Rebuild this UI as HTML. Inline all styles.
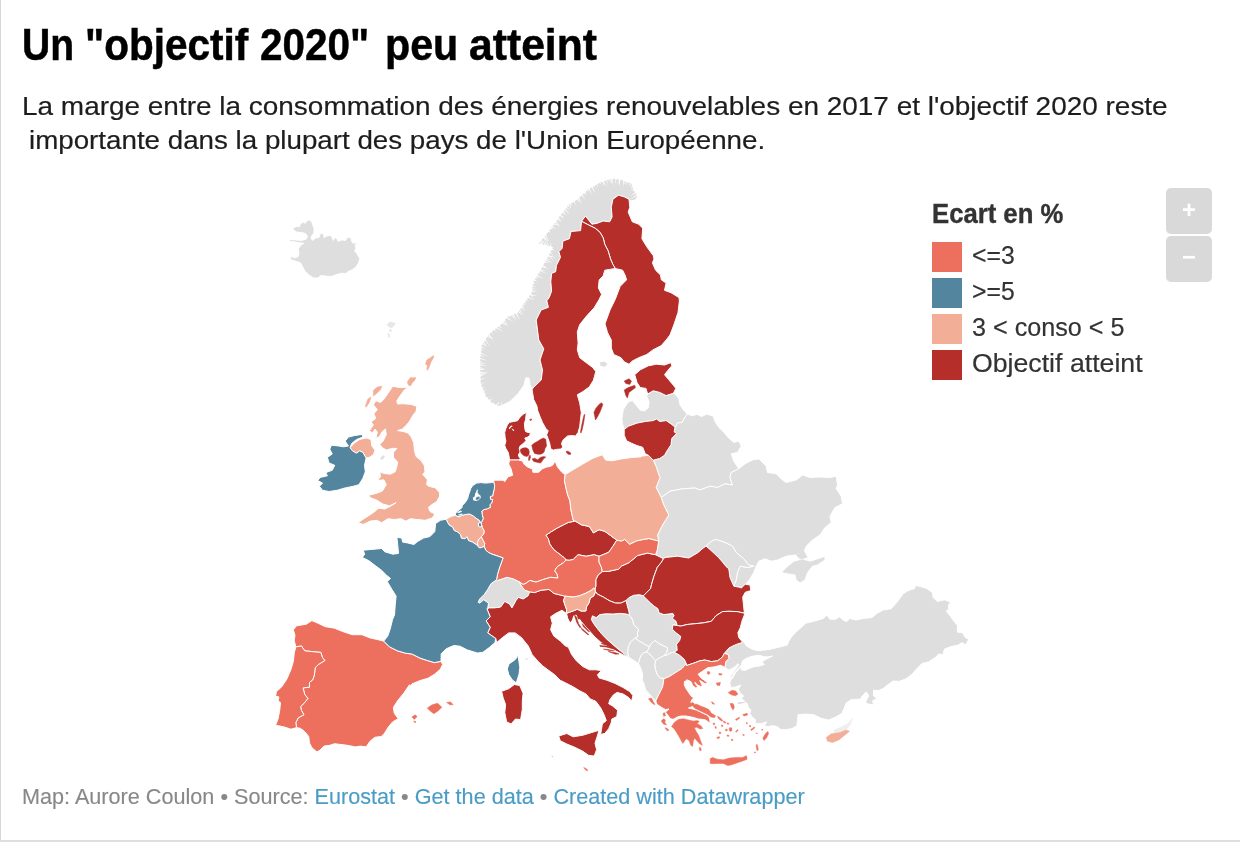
<!DOCTYPE html>
<html lang="fr">
<head>
<meta charset="utf-8">
<title>Un "objectif 2020" peu atteint</title>
<style>
html,body{margin:0;padding:0;background:#fff;}
body{width:1240px;height:842px;position:relative;overflow:hidden;font-family:"Liberation Sans",sans-serif;color:#222;}
.frame{position:absolute;left:0;top:0;width:1239px;height:840px;border-left:1px solid #d6d6d6;border-bottom:2px solid #dedede;box-sizing:content-box;}
.t{position:absolute;white-space:pre;line-height:1;transform-origin:0 0;}
#title{left:0;top:23px;font-size:44px;font-weight:bold;color:#000;-webkit-text-stroke:0.5px #000;}
#title span{position:absolute;top:0;transform-origin:0 0;white-space:pre;}
#sub1{left:22px;top:92.7px;font-size:26.5px;-webkit-text-stroke:0.2px #1d1d1d;transform:scaleX(1.0546);color:#1d1d1d;}
#sub2{left:29px;top:127.2px;font-size:26.5px;-webkit-text-stroke:0.2px #1d1d1d;transform:scaleX(1.0466);color:#1d1d1d;}
#ltitle{left:932px;top:200px;font-size:28px;transform:scaleX(0.917);font-weight:bold;color:#333;-webkit-text-stroke:0.4px #333;}
.sw{position:absolute;left:932px;width:30px;height:30px;}
.ll{left:972px;font-size:26.5px;color:#333;-webkit-text-stroke:0.2px #333;}
.zb{position:absolute;left:1166px;width:46px;height:46px;background:#d9d9d9;border-radius:5px;}
.zb span{position:absolute;left:0;width:46px;text-align:center;color:#fff;font-weight:bold;font-size:24px;line-height:1;}
#zp{top:10px;}#zm{top:8.6px;}
#foot{left:22px;top:785.7px;font-size:22.5px;transform:scaleX(0.9614);color:#888;-webkit-text-stroke:0.15px #888;}
#foot a{color:#4a9cc6;text-decoration:none;-webkit-text-stroke:0.15px #4a9cc6;}
svg{position:absolute;left:0;top:0;}
</style>
</head>
<body>
<div class="frame"></div>
<div class="t" id="title"><span style="left:21.98px;transform:scaleX(0.8864)">Un</span> <span style="left:84.91px;transform:scaleX(0.9205)">&quot;objectif</span> <span style="left:259.83px;transform:scaleX(0.9203)">2020&quot;</span> <span style="left:385.13px;transform:scaleX(0.9358)">peu</span> <span style="left:469.03px;transform:scaleX(0.9695)">atteint</span></div>
<div class="t" id="sub1">La marge entre la consommation des énergies renouvelables en 2017 et l'objectif 2020 reste</div>
<div class="t" id="sub2">importante dans la plupart des pays de l'Union Européenne.</div>
<svg width="1240" height="842" viewBox="0 0 1240 842"><g stroke="#fff" stroke-width="1" stroke-linejoin="round">
<path id="iceland" fill="#dedede" d="M292.4,228.5 295.2,227.1 297.1,226.2 299,227.1 300.4,224.3 302.8,221.9 305.2,223.3 307.1,220.5 309.5,220 311.8,221.9 312.8,225.2 314.2,229 313.7,233.3 311.8,235.7 310.9,238.5 312.8,240.4 315.6,238 319,237.6 320.4,233.3 323.3,233.3 324.2,237.6 326.6,236.1 330.4,235.2 332.3,237.6 333.2,240.4 334.7,237.6 337,238.5 338,241.4 341.8,239.9 345.6,240.4 347.5,237.1 350.8,237.6 351.8,241.4 353.2,243.3 357.9,242.3 355.1,245.2 356,248 354.6,250.9 357,253.7 359.8,258.5 358.4,263.2 356,267 352.2,269.9 348.4,271.3 345.6,273.7 341.8,273.2 337,274.6 331.3,276.5 325.6,276.1 320.9,275.6 318,278 313.3,278 308.5,274.6 304.7,270.8 302.3,266.1 300.4,262.8 296.2,261.3 290,259.4 291.4,256.1 294.3,258 298.1,256.6 299,252.8 298.1,249 300.4,245.6 303.8,243.3 299,242.8 294.3,241.8 289.5,241.4 290,239.5 295.2,239.9 300.9,240.4 305.7,239.5 307.6,236.6 305.7,233.8 302.8,232.8 299,232.3 295.7,231.9 294.3,230Z"/>
<path id="faroe_isl" fill="#e7e7e7" stroke="#e7e7e7" stroke-width="0.5" d="M386.9,324.3 390.2,321.9 395.4,323.3 394,325.7 391.2,328.1 388.3,326.2ZM389.3,329.5 391.6,330 391.2,331.9 389.4,331.4ZM387.8,333.3 389.3,333.8 389.7,337.6 388.5,337.1Z"/>
<path id="norway" fill="#dedede" d="M480,380 479.5,360 481.2,345 490,332.5 500,325 507.5,316.2 517.5,312.5 522.5,305 531.2,292.5 532.5,282.5 540,270 552.5,247.5 537.5,243.8 547.5,232.5 560,215 570,202.5 572.6,202.4 580.6,196 587.1,189.5 595.2,184.7 603.2,180.6 612.9,177.9 622.6,179.8 633.9,183.9 633.1,188.7 637.9,196 635.5,200 630.6,200.8 629,199.2 624.2,196.8 618.5,195.2 612.9,199.2 611.3,207.3 612.1,216.9 609.7,221.8 603.2,221 596.8,223.4 591.9,224.2 585.5,216.1 581.5,221.3 581.5,221.3 580.6,230.6 571,231.5 569.4,238.7 562.9,241.1 562.1,248.4 558.9,251.6 560.5,257.3 556.5,265.3 555.6,271.8 551.6,273.4 550.8,281.5 551.6,291.1 549.2,297.6 546.8,300.8 548.4,307.3 541.1,310 536.2,320 538.8,340 543.8,348.8 540,360 542.5,370 541.2,380 532.9,388.1 530.5,386.8 528.9,377.9 525.6,377.9 524,385.2 518.4,393.2 510.3,401.3 499,406.9 491,402.7 485.3,396.3 482.9,389.8 480.5,385Z"/>
<path id="fjords" fill="#fff" stroke="none" d="M479.4,380 479.4,378.7 486.2,378.4ZM479.3,377.3 479.3,376 486,373.6ZM479.3,375.4 479.3,374.1 487.6,372.7ZM479.2,373.3 479.2,372 488.8,372.1ZM479.2,370.1 479.1,368.8 485.6,370.1ZM479.1,368.1 479.1,366.8 486.1,369.7ZM479,365.4 479,364.1 487,365.9ZM479,363.5 479,362.2 487.1,363.4ZM478.9,361.2 478.9,359.9 482.5,361.6ZM479,358.7 479.2,357.4 487.5,360.8ZM479.4,355.5 479.6,354.2 485,357.1ZM479.7,353 479.8,351.7 488,356.5ZM479.9,351 480.1,349.7 484.3,349.8ZM480.3,347.7 480.4,346.4 486.4,348.5ZM481.1,344.1 481.8,343 486.7,346.3ZM482.7,341.9 483.4,340.8 487,347.2ZM484.3,339.5 485.1,338.5 490,346.4ZM486.3,336.8 487,335.7 493.9,338.5ZM488.1,334.2 488.8,333.1 493.6,341.5ZM490.6,331.3 491.6,330.5 492.8,335.4ZM492.8,329.7 493.8,328.9 497.8,332ZM495.3,327.8 496.3,327 504,332.3ZM497.8,325.9 498.8,325.2 503.2,329ZM500.4,323.6 501.3,322.6 509.3,325.5ZM502.2,321.5 503.1,320.5 505.1,324ZM503.7,319.7 504.6,318.7 507.7,327.3ZM505.4,317.7 506.3,316.7 514.1,322ZM508.1,315.3 509.4,314.9 510.9,318.2ZM510.4,314.5 511.7,314 515.5,319.9ZM512.2,313.8 513.4,313.4 517.3,321.2ZM515.3,312.7 516.5,312.2 520,320.4ZM517.4,311.6 518.1,310.5 523.6,315.7ZM518.9,309.3 519.6,308.3 523.2,314.9ZM520.3,307.2 521.1,306.1 525.1,311ZM521.5,305.3 522.3,304.3 524.7,309.3ZM522.5,304 523.2,303 526,305.4ZM524,301.8 524.7,300.7 527.2,303.7ZM525.6,299.5 526.4,298.4 529,301.5ZM527.1,297.4 527.8,296.3 534.3,300.3ZM528.7,295 529.5,293.9 537,295.8ZM529.8,293.4 530.6,292.4 534.1,299.4ZM530.7,291.9 530.8,290.6 537.9,291ZM531,289.5 531.1,288.2 536.5,288.9ZM531.3,286.8 531.5,285.5 536.8,286.3ZM531.7,283.8 531.9,282.5 535.5,283.9ZM532.1,282.1 532.7,280.9 535.8,285ZM533.2,280.2 533.9,279.1 537.7,281.8ZM534.7,277.7 535.4,276.6 538.9,278.7ZM535.9,275.7 536.6,274.6 543.8,279.1ZM537.5,273 538.2,271.9 542.1,274.2ZM539,270.5 539.6,269.4 547.2,274.2ZM539.3,270 539.9,268.9 546.2,270.9ZM540.8,267.3 541.4,266.2 549.5,268.6ZM541.9,265.3 542.5,264.2 549,269.8ZM543.4,262.6 544,261.5 549.3,263.1ZM544.5,260.7 545.1,259.5 552.8,262.5ZM545.6,258.6 546.3,257.5 551.5,260.6ZM546.8,256.4 547.5,255.3 556.1,257.6ZM547.7,254.9 548.4,253.7 554,261.3ZM549.4,251.9 550,250.8 553.4,256.2ZM550.9,249.1 551.6,247.9 555,251.7ZM551.3,247.8 550.1,247.5 551,241ZM549,247.3 547.8,247 547.7,242.2ZM546.4,246.6 545.1,246.3 548.4,241.8ZM544.5,246.2 543.3,245.8 547.6,237.8ZM541.4,245.4 540.1,245.1 545.9,237.9ZM538.7,244.7 537.5,244.4 539.7,241.3ZM537.1,243.3 538,242.3 543.1,248ZM538.8,241.5 539.6,240.5 545.4,247.8ZM540.3,239.7 541.2,238.7 543.3,243.6ZM542,237.8 542.9,236.8 549.4,241.9ZM543.4,236.2 544.3,235.2 547.5,241.5ZM544.8,234.6 545.7,233.6 548.9,241.6ZM547.9,230.9 548.6,229.9 551,232.8ZM549.7,228.4 550.5,227.3 553.6,229.4ZM551,226.5 551.8,225.5 557.2,229.5ZM552.5,224.5 553.3,223.4 561,225.2ZM553.6,222.9 554.4,221.9 558.1,223.6ZM554.7,221.3 555.5,220.3 560.6,228.5ZM555.9,219.7 556.6,218.7 562.2,222.1ZM557.2,217.9 558,216.8 561.8,221.2ZM558.8,215.6 559.6,214.6 564.6,217ZM559.3,214.9 560.1,213.9 564.2,219.7ZM560.8,213 561.6,212 565,214.1ZM562.3,211.1 563.1,210.1 567,216.4ZM563.8,209.2 564.7,208.2 570.2,214.7ZM565.4,207.3 566.2,206.3 570.4,210.4ZM567.2,205 568,204 571.7,209.1ZM568.8,203 569.6,202 573.1,205.8ZM569.5,201.9 570.8,201.9 570.8,208ZM573.6,200.8 574.6,200 575.9,205.9ZM576,198.9 577,198.1 579.9,202.4ZM577.6,197.7 578.6,196.8 582.3,204.6ZM581.2,194.6 582.1,193.7 585.7,200.5ZM583.1,192.7 584,191.8 586.3,195.4ZM584.4,191.4 585.3,190.5 587.1,194.7ZM585.7,190 586.6,189.1 589.9,191.3ZM586.6,189.1 587.8,188.4 588.1,192.3ZM588.4,188.1 589.5,187.4 592.1,195.8ZM591.1,186.5 592.2,185.8 595.8,194.5ZM593.7,184.9 594.8,184.2 595.4,188.2ZM596,183.6 597.2,183 597.7,187.4ZM598.9,182.1 600.1,181.5 601.8,185ZM601.3,180.9 602.5,180.3 607.5,187.1ZM603,180 604.3,179.7 603.9,187.1ZM605.4,179.4 606.6,179 608.1,184.6ZM607.7,178.7 608.9,178.4 612,183.4ZM610.2,178 611.4,177.7 614.1,186.7ZM612.8,177.3 614.1,177.5 610.2,184.4ZM615.6,177.8 616.9,178.1 615.1,184.5ZM618.4,178.4 619.7,178.6 620.2,187.4ZM620.3,178.7 621.6,179 616.5,185.6ZM623.3,179.4 624.5,179.9 623.4,187.5ZM625.4,180.2 626.6,180.6 624,184.8ZM627.6,181 628.8,181.4 625.7,185.5ZM630.7,182.1 631.9,182.5 628.6,186.9ZM633,182.9 634.2,183.4 630,191.1ZM634.5,183.9 634.3,185.2 630.7,184ZM634.1,186.3 633.9,187.6 629.4,186.7ZM634.4,189.5 635.1,190.6 630.4,190.7ZM635.8,191.7 636.5,192.7 630.2,196.3ZM637.5,194.3 638.2,195.3 630.5,199.1ZM501.3,406.7 500.2,406.9 501.7,400.4ZM498,407.1 497,407.3 499.1,401ZM494.9,406.8 494.1,406.1 500,401.6ZM492.5,404.7 491.6,404 494.3,401.6ZM490,402.5 489.2,401.6 491.8,396.9ZM488.5,400.8 487.8,400 492.2,398.9ZM486.5,398.6 485.8,397.8 489.5,396.4ZM484.4,395.5 484,394.5 486.8,392.5ZM483.3,392.5 482.9,391.5 486.4,389.8ZM481.6,388.5 481.1,387.5 485.7,387.8ZM480.4,386.2 479.9,385.2 484.7,381.6Z"/>
<path id="isleofman_isl" fill="#dedede" stroke="#dedede" stroke-width="0.5" d="M380.6,458.1 383.1,455.6 384.7,456 383.1,458.9 381.1,459.7Z"/>
<path id="aland_isl" fill="#dedede" stroke="#dedede" stroke-width="0.5" d="M600,362.6 604,361.8 607.3,364.2 604.8,366.6 600.8,365.8Z"/>
<path id="switzerland" fill="#dedede" d="M487.7,608.4 488.5,603.1 483.7,599.8 479.7,603.1 478.1,602.3 479.7,599 484.5,594.2 487.7,589.4 491,583.7 496.6,579.7 496.6,579.7 497.4,580.5 507.1,577.3 513.5,578.9 519.2,581.8 519.2,581.8 521.6,586.1 524.8,590.2 529.7,591.8 529.7,591.8 528.1,595.8 523.2,599 518.4,597.4 516,600.6 511.9,607.9 509.5,603.9 504.7,601.5 500.6,607.1 494.2,607.9 489.4,607.9 487.7,608.4Z"/>
<path id="latvia" fill="#dedede" d="M621.8,419 623.4,409.4 628.2,402.1 632.3,400.5 635.5,404.5 640.3,410.2 644.4,411 648.4,407.7 649.2,402.1 646.8,396.5 647.6,394 653.2,390.8 659.7,392.4 666.1,395.6 673.4,393.2 675.8,394.8 679,398.9 679.8,404.5 683.1,409.4 687.1,414.2 683.9,419 682.3,422.3 677.4,423.1 675.8,426.3 675,427.1 675,427.1 671,423.9 666.1,420.6 659.7,421.5 656.5,419 653.2,420.6 645.2,421.5 637.1,423.1 628.2,426.3 624.2,429.5 622.6,423.9Z"/>
<path id="belarus" fill="#dedede" d="M675,427.1 675.8,426.3 677.4,423.1 682.3,422.3 683.9,419 687.1,414.2 692.7,415.8 696.8,414.2 701.6,416.6 706.5,414.2 712.9,415.8 715.3,422.3 719.4,427.9 724.2,432.7 729,438.4 733.9,442.4 738.8,441.2 741.2,446.2 737.5,452.5 731.2,453.8 733.8,461.2 738.8,468.8 731.2,472.5 730,477.5 732.5,485 732.5,485 725,483.8 717.5,487.5 710,486.2 700,490 695,488 682.5,488.8 670,491.2 661.2,497.5 661.2,497.5 656.2,487.5 660,477.5 658.9,475 656.5,467.4 654,461.8 653.2,460.2 653.2,460.2 659.7,458.5 664.5,455.3 667.7,449.7 671,444.8 671.8,438.4 676.6,433.5 674.2,431.9 675,427.1Z"/>
<path id="ukraine" fill="#dedede" d="M661.2,497.5 670,491.2 682.5,488.8 695,488 700,490 710,486.2 717.5,487.5 725,483.8 732.5,485 730,477.5 731.2,472.5 738.8,468.8 745,463.8 752.5,460 758.8,458.8 766.2,466.2 767.5,472.5 776.2,473.8 782.5,480 786.2,482.5 796.2,480 802.5,475 810,477.5 820,477 830,477.5 836.2,476.2 837.5,485 836.2,488.8 841.2,496.2 842.5,503.8 835,507.5 830,516.2 831.2,522.5 825,527.5 820,535 812.5,540 806.2,546.2 803.8,552.5 795,555 786.2,556.2 777.5,560 771.2,561.2 765,558.8 758.8,561.2 756.2,566.2 753.8,572.5 750,578.8 746.2,583.8 741.2,587.5 733.8,586.2 733.8,586.2 736.2,580 737.5,572.5 740,566.2 747.5,567.5 753.8,566.2 748.8,565 743.8,558.8 736.2,552.5 732.5,546.2 725,542.5 717.5,540 714.5,539.5 710,542.5 706,546 706,546 702,549 698,552.6 688.8,558 677.5,556.2 665,557.5 663.5,558.7 655.5,554.7 655.5,554.7 657.1,550.6 658.7,541 658.8,541.2 657.5,535 662.5,525 668.8,515 663.8,505 661.2,497.5Z"/>
<path id="crimea" fill="#dedede" d="M781.2,572.5 786.2,567.5 793.8,561.2 802.5,558.8 810,561.2 817.5,558.8 825,556.2 825,560 817.5,565 812.5,566.2 807.5,572.5 805,580 800,583 796.2,580 795,575 787.5,573.8Z"/>
<path id="crimeaneck_isl" fill="#dedede" stroke="#dedede" stroke-width="0.5" d="M796,554.8 804,551.3 807.3,557.4 800,559Z"/>
<path id="moldova" fill="#dedede" d="M706,546 710,542.5 714.5,539.5 717.5,540 725,542.5 732.5,546.2 736.2,552.5 743.8,558.8 748.8,565 753.8,566.2 747.5,567.5 740,566.2 737.5,572.5 736.2,580 733.8,586.2 733.8,586.2 730,577.5 728.8,568.8 726,566.5 722.5,562 718.5,557.5 714.3,553.5 710,549.5 706,546Z"/>
<path id="serbia" fill="#dedede" d="M625.8,600.7 628.8,597.7 633.6,595.3 639.7,594.7 643.3,595.9 643.3,595.9 646.9,599.5 650.6,603.1 654.2,606.2 657.8,608.6 659,612.8 663.9,614.6 668.7,614 672.9,613.4 674.1,615.8 672.3,618.3 676,621.3 677.2,625.5 677.2,625.5 672.9,624.9 672.3,629.2 676,632.8 680.8,636.4 679.6,640.6 676.6,644.3 677.2,650.3 674.1,652.1 674.1,652.1 669.9,653.3 666.9,655.2 663.9,655.8 663.9,655.8 666.9,652.1 667.5,647.9 663.9,646.1 659,643.7 654.8,640.6 651.8,643.1 649.4,646.7 649.4,646.7 644.5,644.3 638.5,640.6 634.8,638.2 634.8,638.2 637.9,636.4 637.3,633.4 638.5,629.2 633.6,624.9 632.4,619.5 629.4,615.2 629.4,615.2 628.8,611 627.6,606.8 626.4,601.9 625.8,600.7Z"/>
<path id="kosovo" fill="#dedede" d="M649.4,646.7 651.8,643.1 654.8,640.6 659,643.7 663.9,646.1 667.5,647.9 666.9,652.1 663.9,655.8 663.9,655.8 660.2,657.6 657.2,659.4 655.4,660.6 655.4,660.6 651.8,656.4 648.1,652.7 646.3,652.1 646.3,652.1 648.1,649.7 649.4,646.7Z"/>
<path id="montenegro" fill="#dedede" d="M634.8,638.2 638.5,640.6 644.5,644.3 649.4,646.7 649.4,646.7 648.1,649.7 646.3,652.1 646.3,652.1 643.9,652.7 641.5,654.6 639.7,658.8 638.5,663.6 632.4,659.4 628.8,657.6 627.6,652.1 628.2,646.7 630.6,641.9 634.8,638.2Z"/>
<path id="nmacedonia" fill="#dedede" d="M655.4,660.6 657.2,659.4 660.2,657.6 663.9,655.8 663.9,655.8 666.9,655.2 669.9,653.3 674.1,652.1 674.1,652.1 679.6,655.2 684.4,659.4 686.2,663.6 686.2,663.6 682,668.5 677.2,671.5 673.5,673.9 668.7,676.9 663.9,678.7 663.9,678.7 660.2,678.1 657.2,674.5 655.4,669.7 654.8,664.8 655.4,660.6Z"/>
<path id="albania" fill="#dedede" d="M638.5,663.6 639.7,658.8 641.5,654.6 643.9,652.7 646.3,652.1 646.3,652.1 648.1,652.7 651.8,656.4 655.4,660.6 655.4,660.6 654.8,664.8 655.4,669.7 657.2,674.5 660.2,678.1 663.9,678.7 663.9,678.7 662.7,686.8 658.7,694.8 655.5,701.3 652.3,697.3 645.8,690 643.4,681.9 642.1,680.6 642.7,674.5 640.9,668.5Z"/>
<path id="bosnia" fill="#dedede" d="M628.8,657.6 627.6,656.4 622.7,652.7 616.7,647.9 611.9,643.7 607,639.4 602.2,634.6 597.3,628.5 593.7,623.7 591.3,619.5 592.5,615.8 596.1,617.7 599.8,614.6 605.8,613.8 613.1,614 620.3,613.4 626.4,614 629.4,615.2 629.4,615.2 632.4,619.5 633.6,624.9 638.5,629.2 637.3,633.4 637.9,636.4 634.8,638.2 634.8,638.2 630.6,641.9 628.2,646.7 627.6,652.1 628.8,657.6Z"/>
<path id="turkey" fill="#dedede" d="M743.7,641.5 746.1,645.7 751,648.7 757,650.6 765.5,650 772.7,648.7 780,646.9 787.3,645.1 788.5,641.5 792.1,636 796.1,632.1 805.8,623.2 815.5,620.8 823.5,618.4 826.8,615.2 830,619.2 835.6,619.2 839.7,616.8 842.9,620 846.9,621.6 849.4,618.4 855.8,620 863.9,618.4 871.9,617.6 876.8,613.5 883.2,610 891.3,608.7 896.9,602.3 903.4,593.4 909,590.2 914.7,588.5 915.5,585.3 921.9,586.9 926.8,588.5 932.4,592.6 933.2,597.4 937.3,601.5 944.5,599.8 951,602.3 948.5,604.7 948.5,609.5 946.1,611.1 950.2,616 954.2,621.6 957.4,625.6 957.4,632.1 963.1,632.9 964.7,636.9 968.7,639.4 965.5,645 962.3,642.6 958.2,645 951,646.6 944.5,649 942.9,654.7 938.9,653.9 934.8,657.9 928.4,661.9 921.9,663.5 917.1,668.4 912.3,674 905.8,678.9 899.4,681.3 892.9,681 888.1,684.5 883.2,688.5 878.4,690.6 873.5,690.2 873.5,695.8 876.8,699 872.7,700.6 873.5,705 867.9,703.9 865.5,702.3 868.7,695.8 866.3,691.8 862.3,695.8 860.6,699 851,699.8 846.1,703.1 844.1,708.6 841.7,713.5 835.6,717.1 828.4,720.1 821.1,718.3 813.9,714.7 805.4,714.1 798.1,714.7 797.5,720.1 796.9,725.6 792.1,728.6 784.8,729.8 780,729.2 777.6,726.8 772.7,725.6 767.9,726.8 764.3,725.6 766.7,721.9 760.6,723.7 754.6,723.1 755.8,720.1 752.2,717.1 749.8,713.5 751,710.4 748.5,707.4 746.7,702.6 742.5,703.8 737.1,705 737.7,701.4 744.9,701.4 741.3,698.3 743.7,695.9 740.1,692.9 738.3,689.3 740.7,685 735.8,686.9 731,687.5 729.8,683.2 731,678.4 729.8,678.4 731,675.4 734.6,670.5 738.9,664.5 737.7,663.9 734,667.5 729.2,669.9 726.2,668.7 725,667.3 725.8,661.6 729,658.4 728.2,654.4 724.2,653.5 724.2,653.5 729,647.9 735.5,644.7 742.7,642.3Z"/>
<path id="marmara" fill="#ffffff" d="M741.3,665.1 742.5,660.8 747.3,657.8 753.4,656 759.4,655.2 763.1,656.6 767.9,656.9 772.7,656 765.5,659.6 761.9,662.1 764.3,664.5 758.2,666.3 753.4,666.9 748.5,668.7 744.9,670.5 741.3,669.9ZM731,678.6 735.2,671.4 741.3,665.3 742,666 736.1,672.1 731.9,679.1Z"/>
<path id="ncyprus_isl" fill="#eeeeee" stroke="#eeeeee" stroke-width="0.5" d="M833.8,730 840,727.5 847.5,723.8 853,718 850,725 846.2,730 840,732.5 833.8,732.5Z"/>
<path id="finland" fill="#b52e29" d="M581.5,221.3 585.5,216.1 591.9,224.2 596.8,223.4 603.2,221 609.7,221.8 612.1,216.9 611.3,207.3 612.9,199.2 618.5,195.2 624.2,196.8 629,199.2 629.8,207.3 628.2,212.1 632.3,221.8 638.7,224.2 642.7,228.2 641.9,238.7 646.8,246.8 653.2,255.6 654,258.9 652.4,262.9 655.6,270.2 660.5,275 661.3,279.8 666.1,283.1 664.5,290.3 671,292.7 679,297.6 679.8,304 679.5,300 678,312.5 673.8,325 670,335 666.1,340 661.3,345.6 653.2,349.7 646.8,354.5 638.7,357.7 632.3,361 629,364.2 624.2,361.8 621,357.7 613.7,354.5 611.3,348.1 611.3,340 607.5,332.5 605,323.8 610,310 615.3,299.2 620.2,286.3 626.6,279.8 625,275 622.6,270.2 615.3,268.5 612.9,264.5 610.5,258.9 608.1,250.8 604.8,244.4 603.2,237.9 600,232.3 595.2,228.2 588.7,225 581.5,221.3Z"/>
<path id="sweden" fill="#b52e29" d="M581.5,221.3 588.7,225 595.2,228.2 600,232.3 603.2,237.9 604.8,244.4 608.1,250.8 610.5,258.9 612.9,264.5 615.3,268.5 609.7,269.4 604.8,270.2 603.2,275.8 599.2,279.8 598.4,287.9 601.6,294.4 601,295.6 599,299.7 594.2,307.7 586.1,316.6 579.7,324.7 577.3,331.9 578.1,343.2 577.3,349.7 579.7,357.7 586.1,362.6 592.6,367.4 595.8,371.5 593.4,380.3 589.4,386.8 582.9,391.6 577.3,394.8 579.7,402.9 581.3,412.6 580.5,419.5 579.7,426.8 578.1,432.4 575.6,436 571.6,435.6 567.6,436 565.2,438.1 562.7,440.5 561.5,443.7 562.7,446.9 561.1,449 556.3,449.4 553.1,450.2 550.6,448.5 549.8,443.7 548.2,438.9 546.6,434.8 548.2,430.8 545.8,428.4 542.6,422.7 540.2,417.1 537.7,410.6 536.9,406 533.7,399.5 532.1,389.8 532.9,388.1 541.2,380 542.5,370 540,360 543.8,348.8 538.8,340 536.2,320 541.1,310 548.4,307.3 546.8,300.8 549.2,297.6 551.6,291.1 550.8,281.5 551.6,273.4 555.6,271.8 556.5,265.3 560.5,257.3 558.9,251.6 562.1,248.4 562.9,241.1 569.4,238.7 571,231.5 580.6,230.6 581.5,221.3Z"/>
<path id="sweden_isl" fill="#b52e29" stroke="#b52e29" stroke-width="0.5" d="M584.1,414.7 584.9,414.5 583.7,422.7 582.1,430 580.9,433.2 580.5,431.6 581.7,425.2 582.9,419.5ZM601.5,402.7 602.9,404.4 600.2,411.6 597.7,416.5 595.5,420 593.9,412.4 595.8,408.4 599,404.4Z"/>
<path id="denmark" fill="#b52e29" d="M526.5,412.3 526,415.5 525.6,419.5 524.4,423.5 524.8,428.4 525.6,431.6 528.1,432.4 530.5,432.8 529.7,435.6 527.3,437.3 524.8,438.1 526,440.5 524,442.9 522,444.5 520,446.1 519.2,448.5 520,451.8 518.4,455 519.2,457.4 520.8,458.2 518.4,460 509.5,460 509.1,456.6 508.3,452.6 505.9,448.5 504.7,445.3 505.9,441.3 505.1,437.3 504.7,432.4 505.9,428.4 507.5,424.8 509.5,422.3 513.5,421.5 517.6,420.7 520,417.1 523.2,414.3Z"/>
<path id="limfjord" fill="#fff" stroke="none" d="M508.7,428 511.1,425.6 512.9,426 511.1,427.2 509.5,429.2ZM511.5,428.4 513.4,429.2 514.4,431 513.4,431 512.1,429.6Z"/>
<path id="denmark_isl" fill="#b52e29" stroke="#b52e29" stroke-width="0.5" d="M520.4,449.4 522.8,448.1 526,447.7 528.5,449 529.3,451.8 528.9,455 526.9,456.6 524,455.8 521.6,453.8 520.4,451.4ZM528.9,456.6 530.1,455 530.5,457.4 529.3,460.6 528.5,460.2ZM531.7,445.3 534.5,442.9 537.7,441.3 540.6,439.3 543.4,438.1 545.8,439.3 546.2,442.9 546.6,446.1 545,448.5 544.2,451.8 542.6,453.4 540.6,454.2 537.7,454.2 534.5,453.4 532.9,450.2ZM532.1,459 534.5,458.2 537.7,459.8 540.2,457.4 543.4,456.6 545.8,457 543.4,459 541.8,461.5 540.6,463.1 536.9,462.3 533.7,461.5ZM566.4,451 568.4,451.4 570.8,453 570.4,454.6 568,454.2 566.4,452.6ZM529.7,419.4 531.7,418.9 531.3,420.3 530.1,420.5Z"/>
<path id="estonia" fill="#b52e29" d="M634.7,374.7 640.3,369.8 648.4,365.8 656.5,364.2 664.5,365 671,362.6 671.8,365.8 667.7,370.6 664.5,374.7 668.5,379.5 673.4,385.2 675.8,388.4 673.4,393.2 673.4,393.2 666.1,395.6 659.7,392.4 653.2,390.8 647.6,394 646,388.4 640.3,387.6 637.1,382.7Z"/>
<path id="estonia_isl" fill="#b52e29" stroke="#b52e29" stroke-width="0.5" d="M624.2,390 628.2,387.6 634.7,385.2 635.5,387.6 632.3,390 629,392.4 627.4,398.1 625.8,395.6ZM624.2,381.1 629,378.7 631.5,381.1 629.8,384.4 625.8,383.5Z"/>
<path id="lithuania" fill="#b52e29" d="M624.2,429.5 628.2,426.3 637.1,423.1 645.2,421.5 653.2,420.6 656.5,419 659.7,421.5 666.1,420.6 671,423.9 675,427.1 675,427.1 674.2,431.9 676.6,433.5 671.8,438.4 671,444.8 667.7,449.7 664.5,455.3 659.7,458.5 653.2,460.2 653.2,460.2 648.4,455.3 645.2,453.7 642.7,447.3 637.1,445.6 631.5,443.2 626.6,440.8 624.2,435.2Z"/>
<path id="czech" fill="#b52e29" d="M574,521.3 568.4,522.4 563.5,524.8 557.1,528.1 550.6,532.1 545.8,535.3 548.2,538.5 549.8,544.2 553.9,549.8 560.3,554.7 564.4,557.9 566,560 566,560 569.2,560.3 573.2,559.5 578.1,554.7 586.1,556.3 594.2,554.7 599,556.3 599,556.3 608.7,552.3 612.7,546.6 616.8,540.2 616.8,540.2 610.3,535.3 604.7,531.3 599,529.7 593.4,532.9 589.4,526.5 581.3,524.8 574.8,520.8 574,521.3Z"/>
<path id="hungary" fill="#b52e29" d="M602.3,571.6 608.7,571.3 618.4,569.2 621.6,566 628.9,562.7 637.7,555.5 647.4,553.1 655.5,554.7 655.5,554.7 663.5,558.7 663.5,558.7 661.3,562.4 657.3,567.3 654,576.1 651.6,584.2 650.6,588.6 646.9,592.3 643.3,595.9 643.3,595.9 639.7,594.7 633.6,595.3 628.8,597.7 625.8,600.7 625.8,600.7 620.9,603.1 615.5,603.1 609.4,600.7 603.4,597.1 597.3,594.1 595.5,591.7 595.5,591.7 594.7,588.6 595,589 595.8,586.1 595.8,579.7 598.2,574.8 602.3,571.6Z"/>
<path id="romania" fill="#b52e29" d="M663.5,558.7 665,557.5 677.5,556.2 688.8,558 698,552.6 702,549 706,546 706,546 710,549.5 714.3,553.5 718.5,557.5 722.5,562 726,566.5 728.8,568.8 730,577.5 733.8,586.2 741.2,587.5 741.1,588.2 745.2,584.2 750,585 750.8,590.6 745.2,592.3 742.7,597.1 743.5,605.2 744.4,613.2 744.4,613.2 737.1,611.6 729,611.3 722.6,611.6 716.1,615.6 711.3,621.3 703.2,622.9 695.2,623.7 687.1,624.5 680.8,626.1 677.2,625.5 677.2,625.5 676,621.3 672.3,618.3 674.1,615.8 672.9,613.4 668.7,614 663.9,614.6 659,612.8 657.8,608.6 654.2,606.2 650.6,603.1 646.9,599.5 643.3,595.9 643.3,595.9 646.9,592.3 650.6,588.6 651.6,584.2 654,576.1 657.3,567.3 661.3,562.4 663.5,558.7Z"/>
<path id="bulgaria" fill="#b52e29" d="M677.2,625.5 680.8,626.1 687.1,624.5 695.2,623.7 703.2,622.9 711.3,621.3 716.1,615.6 722.6,611.6 729,611.3 737.1,611.6 744.4,613.2 744.4,614.8 741.9,621.3 740.3,627.7 737.9,632.6 738.7,637.4 742.7,642.3 742.7,642.3 735.5,644.7 729,647.9 724.2,653.5 724.2,653.5 722.6,656.8 717.7,660.8 711.3,661.6 704.8,660 700,660.8 693.5,663.2 686.3,665.6 686.2,663.6 684.4,659.4 679.6,655.2 674.1,652.1 674.1,652.1 677.2,650.3 676.6,644.3 679.6,640.6 680.8,636.4 676,632.8 672.3,629.2 672.9,624.9 677.2,625.5Z"/>
<path id="croatia" fill="#b52e29" d="M595.5,591.7 593.7,595.9 590.1,598.3 588.9,603.1 586.5,606.8 585.8,611 581,611 577.4,609.2 573.1,611 569.5,612.2 566.5,613.4 567.7,618.3 570.1,623.1 572.5,620.1 573.7,615.8 576.2,615.2 578.6,617.7 581,621.3 585.2,626.1 589.5,631 594.9,637 600.4,641.9 605.8,645.5 611.9,649.1 617.9,652.1 623.9,655.2 628.8,657.6 627.6,656.4 622.7,652.7 616.7,647.9 611.9,643.7 607,639.4 602.2,634.6 597.3,628.5 593.7,623.7 591.3,619.5 592.5,615.8 596.1,617.7 599.8,614.6 605.8,613.8 613.1,614 620.3,613.4 626.4,614 629.4,615.2 629.4,615.2 628.8,611 627.6,606.8 626.4,601.9 625.8,600.7 625.8,600.7 620.9,603.1 615.5,603.1 609.4,600.7 603.4,597.1 597.3,594.1 595.5,591.7Z"/>
<path id="croatia_isl" fill="#b52e29" stroke="#b52e29" stroke-width="0.5" d="M574.4,615.2 576.2,616.5 578.6,623.7 581,627.3 579.8,627.6 576.8,622.5ZM577.4,615.2 579.2,615.8 579.8,618.9 578,618.9ZM582.2,623.7 584,625.5 589.5,631.6 588.3,631.6 583.4,626.7ZM581,627.9 582.8,629.2 588.9,634.6 587.9,634.8 582.2,630ZM601,643.1 605.8,643.7 608.2,644.9 603.4,644.5ZM599.8,645.5 607,646.1 613.1,647.9 611.9,648.5 605.8,646.9 600,646.4ZM603.4,649.1 609.4,649.7 614.3,650.9 609.4,650.6ZM608.2,651.5 615.5,652.7 619.1,653.9 615.5,654.2Z"/>
<path id="italy" fill="#b52e29" d="M487.7,608.4 489.4,607.9 494.2,607.9 500.6,607.1 504.7,601.5 509.5,603.9 511.9,607.9 516,600.6 518.4,597.4 523.2,599 528.1,595.8 529.7,591.8 529.7,591.8 534.5,592.6 541,590.2 549,589.4 553.9,593.4 560.3,595 565.5,596.3 565.5,596.2 563.5,600.1 564.7,604.4 566.5,609.2 566.5,613.4 561.9,610.3 555.5,613.5 550.6,616.8 552.3,623.2 550.6,629.7 553.9,636.1 560.3,641 565.2,645.8 568.4,647.3 571.6,654.5 576.5,661 582.9,666.6 589.4,669.8 595.8,669.8 601.5,670.6 597.4,674.7 599,677.9 607.1,680.3 615.2,683.5 623.2,687.6 629.7,691.6 632.9,695.6 631.6,701.3 628.9,697.7 623.2,694 617.1,692.4 613.5,694.8 610,699.4 608.7,703.7 612.7,706.1 617.6,710.2 616.8,716.6 611.9,719 611.1,723.1 608.7,728.7 604.7,733.5 600.6,734.4 601.5,729.5 602.3,723.9 606.3,720.6 603.9,714.2 600.6,707.7 595.8,701.3 590.2,698.9 586.1,694 579.7,690.8 573.2,686.8 566.8,683.5 560.3,680.3 554.7,674.7 549,670.6 542.6,665.8 537.7,661 532.1,654.5 528.9,647.3 528.1,645.8 521.6,637.7 515.2,632.9 508.7,632.9 502.3,637.7 496.6,642.6 495.8,638.5 487.7,632.9 490.2,627.3 486.1,620.8 490.2,616.8 486.9,608.7 487.7,608.4ZM558.7,736 566.8,733.5 573.2,736.8 582.9,735.2 591,732.7 599,730.3 597.4,736 595,743.2 596.6,749.7 594.2,756.1 588.5,755.3 582.9,751.3 574.8,747.3 566.8,744 560.3,740.8ZM501.6,691.3 508.7,688.7 514.4,684.5 519.7,685.5 523.1,693.2 522.3,701.3 522.3,709.4 520.6,719.7 515.5,719 511.1,723.9 506.6,721.9 504.8,712.6 505.6,704.5 503.2,698.1ZM525.6,658.5 527.7,658.1 527.4,659.7 525.8,659.8ZM551.6,755.8 553.2,756.1 552.9,757.4 551.8,757.1Z"/>
<path id="germany" fill="#ec705d" d="M509.5,460 518.4,460 522.4,461 524.2,464.3 527.1,466.7 529.7,467.9 532.3,468.7 532.9,472.3 538.5,472.3 542.6,468.7 546.6,467.1 550.6,466.3 553.1,464.7 554.7,461.5 556.3,463.9 557.1,466.3 559.5,469.5 561.9,472.3 565.2,474.5 565.2,474.5 564.4,480.2 566,488.2 567.6,494.7 570,501.1 570.8,509.2 573.2,520 574,521.3 574,521.3 568.4,522.4 563.5,524.8 557.1,528.1 550.6,532.1 545.8,535.3 548.2,538.5 549.8,544.2 553.9,549.8 560.3,554.7 564.4,557.9 566,560 566,560 563.5,562.7 557.1,566.8 554.7,570.8 557.1,574 557.9,578.1 550.6,577.3 542.6,579.7 536.1,582.1 529.7,580.5 526.5,582.9 523.2,584.5 519.2,581.8 519.2,581.8 513.5,578.9 507.1,577.3 497.4,580.5 496.6,579.7 496.6,579.7 497.4,574.8 499.8,566.8 503.1,557.9 491.3,553.9 488.5,552.4 485.6,550.1 484.2,546.3 484.2,546.3 484.7,543.4 483.2,540.6 481.3,536.8 481.3,536.8 483.7,533.9 484.2,531.1 482.3,527.7 481.8,525.4 480.9,522.5 480.9,522.5 481.8,521.6 483.2,518.7 482.3,514.9 481.8,511.1 483.7,509.7 487.5,508.7 490.4,507.3 489.9,504.9 491.8,502.6 492.7,499.7 490.4,499.2 490.4,496.4 492.7,495.9 493.2,493.1 494.2,489.3 494.6,485.5 493.7,482.1 494.2,480.2 503.1,480.2 504.7,481.8 507.9,476.9 512.7,475.3 511.1,468.9 508.7,464Z"/>
<path id="austria" fill="#ec705d" d="M519.2,581.8 523.2,584.5 526.5,582.9 529.7,580.5 536.1,582.1 542.6,579.7 550.6,577.3 557.9,578.1 557.1,574 554.7,570.8 557.1,566.8 563.5,562.7 566,560 566,560 569.2,560.3 573.2,559.5 578.1,554.7 586.1,556.3 594.2,554.7 599,556.3 599,556.3 599,561.9 601.5,567.6 602.3,571.6 602.3,571.6 598.2,574.8 595.8,579.7 595.8,586.1 595,589 594.7,588.6 593.7,588 591.3,590.4 585.2,593.5 579.2,595.9 573.1,597.1 565.5,596.2 565.5,596.3 560.3,595 553.9,593.4 549,589.4 541,590.2 534.5,592.6 529.7,591.8 529.7,591.8 524.8,590.2 521.6,586.1 519.2,581.8Z"/>
<path id="slovakia" fill="#ec705d" d="M616.8,540.2 621.6,541 624.8,539.4 629.7,544.2 636.1,541 643.4,539.4 649,538.5 658.7,541 658.7,541 657.1,550.6 655.5,554.7 655.5,554.7 647.4,553.1 637.7,555.5 628.9,562.7 621.6,566 618.4,569.2 608.7,571.3 602.3,571.6 602.3,571.6 601.5,567.6 599,561.9 599,556.3 599,556.3 608.7,552.3 612.7,546.6 616.8,540.2Z"/>
<path id="spain" fill="#ec705d" d="M293.4,629.8 296.6,625.8 306.3,624.2 311.9,620.6 318.4,623.4 324.8,626.6 334.5,628.2 342.6,631.5 352.3,634.7 361.9,634.7 370,637.9 377.3,639.5 383.7,641.1 389.4,646.8 397.4,650.8 405.5,653.2 411.9,654 420,658.1 427.3,660.5 434.5,662.6 441,661.3 442.6,664.5 440.2,669.4 434.5,674.2 428.1,678.2 420,680.6 411.9,683.9 407.9,688.7 409.5,684.8 403.9,692.9 397.4,701 393.4,707.4 394.2,713.1 398.2,718.7 392.6,721.9 388.5,726.8 384.5,733.2 381.3,736.5 374.8,737.3 370,741.3 366,746.9 360.3,746.1 355.5,746.9 347.4,745.3 341,744.5 334.5,743.7 329.7,745.3 324,746.1 320,750.2 316.8,751.8 311.9,747.7 309.5,742.9 308.7,736.5 304.7,731.6 300.6,728.4 296.6,727.6 296.6,727.6 295.8,722.7 298.2,717.9 303.9,714.7 301.5,710.6 300.6,706.6 304.7,702.6 307.9,698.4 304.7,694.4 303.1,687.9 309.5,687.1 309.5,682.3 312.7,679.8 314.4,675 315.2,667.7 318.4,664.5 324.8,660.5 322.4,657.3 320.8,652.4 311.9,651.6 304.7,650.8 301.5,646 295.8,646.8 294.2,640.3 295,635.5Z"/>
<path id="spain_isl" fill="#ec705d" stroke="#ec705d" stroke-width="0.5" d="M427.3,708.1 432.1,704.8 437.7,703.2 441.8,707.3 437.7,711.3 433.7,713.7 430.5,711.3ZM446.6,702.4 450.6,701.9 453.1,704.8 449.8,704.8ZM411.9,716.9 415.2,714.8 417.1,716.5 414.4,719.4ZM413.5,721 416,721.8 415.2,722.9Z"/>
<path id="portugal" fill="#ec705d" d="M295.8,646.8 301.5,646 304.7,650.8 311.9,651.6 320.8,652.4 322.4,657.3 324.8,660.5 318.4,664.5 315.2,667.7 314.4,675 312.7,679.8 309.5,682.3 309.5,687.1 303.1,687.9 304.7,694.4 307.9,698.4 304.7,702.6 300.6,706.6 301.5,710.6 303.9,714.7 298.2,717.9 295.8,722.7 296.6,727.6 291,729.2 283.7,726.8 275.6,725.2 278.1,718.7 279.7,710.6 280.5,702.6 278.1,701 278.9,696.9 275.6,696.1 276.5,691.3 278.1,690.3 282.1,686.3 286.9,679 291,669.4 293.4,661.3 294.2,653.2Z"/>
<path id="greece" fill="#ec705d" d="M655.5,701.3 658.7,694.8 662.7,686.8 663.9,678.7 663.9,678.7 668.7,676.9 673.5,673.9 677.2,671.5 682,668.5 686.2,663.6 686.3,665.6 693.5,663.2 700,660.8 704.8,660 711.3,661.6 717.7,660.8 722.6,656.8 724.2,653.5 724.2,653.5 728.2,654.4 729,658.4 725.8,661.6 725,667.3 720.6,665.3 714.2,666.9 707.7,667.7 702.9,671 698.1,674.2 701.3,678.2 706.1,681.5 703.7,682.3 699.7,680.6 702.1,684.7 698.1,685.5 694.8,682.3 695.6,687.1 693.2,686.3 690.8,681.5 686.8,679.8 684.4,682.3 684.8,681.2 684.2,684.8 686,688.5 688.4,692.1 690.8,695.7 693.8,698.1 692,699.4 690.8,702.4 692.6,701.8 695,703.6 693.8,706 690.8,707.2 688.4,708.1 692,708.8 696.2,710 699.9,711.7 703.5,713.5 707.1,715.1 709.6,718.1 710.2,723.3 707.7,721.5 705.3,719.9 701.7,719.3 698.1,719 694.4,717.7 690.8,716.9 686,716 681.1,716 677.5,716.9 673.3,719.3 670.2,718.7 667.8,715.1 665.4,712.1 669,709 665.4,709.6 661.2,707.2 656.9,704.2 655.7,700.6Z"/>
<path id="greece_isl2_isl" fill="#ec705d" stroke="#ec705d" stroke-width="0.5" d="M671.5,726.6 674.5,722.3 678.7,719.3 683.5,718.7 688.4,719.9 693.2,721.1 697.5,720.5 699.3,721.7 696.9,723.5 700.5,725.4 702.9,728.4 699.9,729 696.9,727.2 694.4,727.8 696.2,731.4 698.7,735.6 700.5,740.5 702.3,745.3 699.3,743.5 696.2,739.9 694.4,738.1 693.2,741.7 692.6,746.5 690.8,745.3 689,740.5 686.6,738.7 684.8,740.5 682.9,743.5 681.1,740.5 679.3,736.9 676.3,732 673.9,728.4ZM710.2,758.6 712.6,757.4 717.4,759.2 723.5,759.8 729.5,758 736.8,757.4 742.8,757.4 746.4,755.6 747.1,759.2 742.8,761 736.8,762.9 731.9,764.7 727.7,765.6 723.5,763.5 717.4,763.5 712.6,763.7 710.2,763.5ZM693.2,704.2 696.9,704.2 700.5,706 705.3,707.8 708.9,709.6 711.4,713.3 715.6,715.7 714.4,717.7 710.8,716.9 707.7,714.5 704.1,712.7 699.9,710.8 695.6,708.8 693.2,706.9ZM648.5,698.7 651.5,698.1 653.3,701.8 655.1,704.8 652.7,703.6 650.3,701.2ZM663,713.3 664.8,712.7 665.4,715.7 663.6,716.3ZM661.2,721.1 663.6,718.7 665.4,719.9 664.8,722.3 666.6,724.8 663.6,724.2ZM664.8,727.8 667.2,728.4 669,730.2 667.2,730.8ZM699,747.7 700.5,747.7 701.4,750.2 699.9,750.8ZM693.8,683 696.9,686.7 695.6,687.3 693.2,684.2ZM698.1,682.4 701.7,685.4 700.5,686 697.8,683.4ZM702.9,680.6 706.5,682.4 705.3,683 702.3,681.2ZM716.2,683 720.4,682.4 719.8,685.4 717.4,685.4ZM728.3,692.7 731.9,690.3 735.6,690.9 738,693.9 735.6,695.7 731.9,695.1 730.1,693.9ZM711.4,701.8 713.2,702.4 714.4,704.2 712.6,704ZM730.1,703.6 733.1,703.6 734.4,707.2 733.1,710 731.3,707.2ZM742.8,714.5 747.1,713.3 747.7,715.1 744,716ZM735.6,719.3 739.2,717.3 739.8,718.1 736.2,720.5ZM717.4,716.3 719.8,717.5 722.9,720.5 721.6,721.1 718.6,718.7ZM723.5,721.1 725.9,722.3 725.3,723.2 723.2,722ZM727.1,722.9 728.9,723.2 728.7,724.3 727.1,724ZM713.2,722.9 714.8,723.3 714.5,724.8 713.2,724.5ZM715,726.6 716.2,726.8 716.1,728.4 715,728.1ZM721.4,725 722.9,725.2 722.7,726.6 721.4,726.3ZM729.5,727.8 731.7,727.8 731.9,730.8 730.1,731.4 729.1,729.6ZM725.6,729 727.3,729.4 727.1,731 725.6,730.8ZM716.8,737.5 719.2,736.6 719.8,737.8 717.4,738.7ZM719.2,732 720.8,732.3 720.6,733.8 719.2,733.6ZM727.1,735 728.9,735.3 728.7,736.4 727.1,736.1ZM731.3,739.3 732.9,739.4 732.8,740.5 731.3,740.4ZM735.6,731.4 737.7,729.6 738.2,730.3 736.2,732.3ZM750.7,729.6 754.3,726.9 754.9,727.8 751.5,730.6ZM749.5,725.4 750.7,725.6 750.6,726.9 749.5,726.7ZM746.2,722.6 747.4,722.8 747.2,723.8 746.2,723.5ZM762.8,738.1 765.8,733.2 768,731.4 768.5,733.8 766.4,738.1 764,740.5ZM756.1,744.7 757.3,744.7 758.3,749.6 757.1,750.8 756.4,747.7ZM754.3,752 755.5,752.1 755.4,752.8 754.3,752.7ZM742.8,734.4 744.3,734.7 744.1,735.5 742.8,735.3ZM756.4,732.9 757.3,733 757.2,733.8 756.4,733.7ZM761.8,729.2 762.8,729.4 762.7,730.2 761.8,730.1ZM707.4,671.7 709.2,671.5 710.1,673.3 708.6,674.5 707.2,673.5ZM718.9,673.5 721.9,673.8 721.7,675.1 719,674.9Z"/>
<path id="malta_isl" fill="#ec705d" stroke="#ec705d" stroke-width="0.5" d="M583.7,767.4 586.9,769 587.7,771 585.3,769.8Z"/>
<path id="uk" fill="#f3ae97" d="M408.1,387.1 404,390.3 400,396 396.8,400.8 397.6,404 403.2,403.7 411.3,404.4 416.9,406.5 416.1,411.3 412.9,415.3 409.7,421 406.5,425 402.4,429 397.6,430.6 403.2,431.5 408.1,433.1 411.3,437.1 413.7,442.7 414.5,450.8 416.1,456.5 421,460.5 424.2,465.3 425,471.8 422.6,474.2 427.4,479.8 426.6,484.7 429,486.3 435.5,487.9 439.5,492.7 439.7,496.1 436.5,501.8 432.4,504.2 428.4,507.4 430,511.5 434.8,513.9 432.4,517.9 425.2,520.3 417.1,519.5 410.6,518.7 405.8,521.1 401,518.7 394.5,519.5 388.1,518.7 381.6,522.7 376.8,520.3 370.3,521.1 363.1,524.4 358.2,522.7 363.9,518.7 370.3,514.7 376,510.6 378.4,508.2 384.8,509 391.3,505.8 396.1,502.6 389.7,505.8 383.2,504.2 376.8,500.2 370.3,497.7 368.7,495.3 375.8,493.5 382.3,491.1 386.3,484.7 383.9,479.8 377.4,480.6 380.6,476.6 379.8,471.8 383.9,473.4 390.3,474.2 395.2,471.8 396.8,466.9 397.6,462.1 393.5,457.3 393.5,452.4 396.8,448.4 391.9,448.4 386.3,450 382.3,447.6 379.8,444.4 383.1,441.1 386.3,434.7 385.5,429 382.3,431.5 379,437.1 375.8,437.9 377.4,432.3 375,429 372.6,433.1 369.4,430.6 373.4,425 371,421.8 375.8,418.5 373.9,413.7 377.4,409.7 373.4,404.8 375.8,400.8 380.6,402.4 383.9,399.2 387.9,393.5 392.7,386.3 400,387.6ZM350,447.6 354.8,442.7 359.7,439.5 366.1,437.9 371,439.5 371.8,446 375,450 373.4,454.8 369.4,457.3 366.1,458.1 366.1,458.1 362.9,452.4 359.7,450.8 356.5,453.2 352.4,450.8 350,447.6Z"/>
<path id="uk_isl" fill="#f3ae97" stroke="#f3ae97" stroke-width="0.5" d="M373.4,390.3 377.4,387.1 381.9,386 380.6,389.5 376.6,393.5 373.4,396ZM367.7,399.2 371,396.8 369.4,402.4 366.1,407.3 365.3,406.5ZM433.4,355.4 433.9,357 431.1,361.8 429.6,366.1 427.7,370.3 426.8,369.4 427.3,365.1 425.4,364.2 426.8,359.9 430.1,358ZM411.1,377 413,378.4 415.9,377.9 414.4,380.8 412.5,382.2 410.6,386 408.3,385.1 407.3,382.2 408.7,379.8ZM411.3,378.2 415.3,377.4 412.9,382.3 410.5,383.1Z"/>
<path id="poland" fill="#f3ae97" d="M573.2,520 570.8,509.2 570,501.1 567.6,494.7 566,488.2 564.4,480.2 565.2,474.5 573.2,469.7 582.9,464 592.6,458.4 602.3,454.7 605.5,460 611.9,460.8 621.6,458.9 631.3,457.6 641,456.8 638.7,456.5 648.4,455.3 653.2,460.2 653.2,460.2 654,461.8 656.5,467.4 658.9,475 660,477.5 656.2,487.5 661.2,497.5 661.2,497.5 663.8,505 668.8,515 662.5,525 657.5,535 658.8,541.2 658.7,541 649,538.5 643.4,539.4 636.1,541 629.7,544.2 624.8,539.4 621.6,541 616.8,540.2 616.8,540.2 610.3,535.3 604.7,531.3 599,529.7 593.4,532.9 589.4,526.5 581.3,524.8 574.8,520.8 574,521.3Z"/>
<path id="belgium" fill="#f3ae97" d="M478,546.3 476.1,544.4 472.3,542 468.5,540.6 467.1,536.8 465.2,538.7 461.4,538.2 460.4,534.4 457.6,532 454.3,530.6 452.4,526.8 449.5,525.4 447.6,522.5 446.2,519.2 451.4,516.3 455.2,515.4 459,516.8 461.9,515.4 465.7,514.4 469.5,514 473.3,515.9 476.1,518.2 479,520.1 480.4,522 480.9,522.5 480.9,522.5 481.8,525.4 482.3,527.7 484.2,531.1 483.7,533.9 481.3,536.8 481.3,536.8 479,539.1 477.5,542.5 478,546.3Z"/>
<path id="luxembourg" fill="#f3ae97" d="M478,546.3 477.5,542.5 479,539.1 481.3,536.8 481.3,536.8 483.2,540.6 484.7,543.4 484.2,546.3 481.3,547.7 479,547.7 478,546.3Z"/>
<path id="slovenia" fill="#f3ae97" d="M566.5,613.4 566.5,609.2 564.7,604.4 563.5,600.1 565.5,596.2 565.5,596.2 573.1,597.1 579.2,595.9 585.2,593.5 591.3,590.4 593.7,588 594.7,588.6 594.7,588.6 595.5,591.7 595.5,591.7 593.7,595.9 590.1,598.3 588.9,603.1 586.5,606.8 585.8,611 581,611 577.4,609.2 573.1,611 569.5,612.2 566.5,613.4Z"/>
<path id="cyprus_isl" fill="#f3ae97" stroke="#f3ae97" stroke-width="0.5" d="M826.2,737.5 831.2,733.8 840,732.5 846.2,730 849.5,731.2 845,735 838.8,740 832.5,742.5 827.5,741.2Z"/>
<path id="france" fill="#54859f" d="M446.2,519.2 440.5,520.3 435.6,523.5 434.8,531.6 430,536.5 423.5,538.1 417.9,541.3 413.9,544.5 407.4,542.9 402.6,542.1 401.8,538.1 396.9,537.3 397.7,544.5 398.5,553.4 392.9,554.2 384.8,551.8 381.6,548.5 371.9,549.4 363.1,550.2 364.7,554.2 362.3,557.4 368.7,560.6 375.2,565.5 381.6,570.3 386.5,575.2 390.5,578.4 387.3,581.6 392.1,589.7 396.1,596.1 395.3,604.2 394.5,615 392.6,619.4 390.2,629 387.7,636.3 383.7,641.1 389.4,646.8 397.4,650.8 405.5,653.2 411.9,654 420,658.1 427.3,660.5 434.5,662.6 441,661.3 441.2,653.8 446.2,648.8 453.8,645.5 460,646.2 467.5,650 477.5,653 482.9,652.3 489.4,647.4 495,642.6 495.8,638.5 487.7,632.9 490.2,627.3 486.1,620.8 490.2,616.8 486.9,608.7 487.7,608.4 487.7,608.4 488.5,603.1 483.7,599.8 479.7,603.1 478.1,602.3 479.7,599 484.5,594.2 487.7,589.4 491,583.7 496.6,579.7 496.6,579.7 497.4,574.8 499.8,566.8 503.1,557.9 491.3,553.9 488.5,552.4 485.6,550.1 484.2,546.3 484.2,546.3 481.3,547.7 479,547.7 478,546.3 478,546.3 476.1,544.4 472.3,542 468.5,540.6 467.1,536.8 465.2,538.7 461.4,538.2 460.4,534.4 457.6,532 454.3,530.6 452.4,526.8 449.5,525.4 447.6,522.5 446.2,519.2ZM517.7,654.2 518.9,661 519.8,667.4 519,674.2 516.3,682.9 512.4,680 508.9,674.8 507.3,669 509,663.9 514,660.5 516.6,658.1Z"/>
<path id="netherlands" fill="#54859f" d="M455.2,515.4 455.7,513 458.1,510.6 461.9,507.8 462.3,505.4 465.2,502.6 467.6,498.8 468.5,495 469.9,491.2 470.9,488.3 472.8,485.5 476.6,483.1 480.9,482.6 485.6,483.1 491.3,482.6 493.7,482.1 493.7,482.1 494.6,485.5 494.2,489.3 493.2,493.1 492.7,495.9 490.4,496.4 490.4,499.2 492.7,499.7 491.8,502.6 489.9,504.9 490.4,507.3 487.5,508.7 483.7,509.7 481.8,511.1 482.3,514.9 483.2,518.7 481.8,521.6 480.9,522.5 480.9,522.5 480.4,522 479,520.1 476.1,518.2 473.3,515.9 469.5,514 465.7,514.4 461.9,515.4 459,516.8 455.2,515.4ZM478.5,523 480.9,522.5 481.6,525.4 480.4,527.1 478.5,526.3Z"/>
<path id="ireland" fill="#54859f" d="M345.2,441.1 348.4,437.1 354.8,435.5 362.1,434.4 362.9,437.1 356.5,439.5 351.6,443.5 350,447.6 352.4,450.8 356.5,453.2 359.7,450.8 362.9,452.4 366.1,458.1 364.5,465.3 365.3,471.8 362.9,478.2 358.9,484.7 353.2,486.3 345.2,487.9 337.1,490.3 329,491.5 322.6,490.3 319.4,486.3 322.6,483.1 317.7,480.6 320.2,477.4 327.4,475.8 325.8,472.6 332.3,470.2 334.7,465.3 329,462.9 327.4,457.3 332.3,454 329.8,449.2 331.5,445.2 338.7,446 343.5,446.8 348.4,446 346.8,443.5Z"/>
<path id="ijssel" fill="#fff" stroke="none" d="M476.6,490.2 478,489.3 477.5,492.6 479,494.5 480.4,495.4 480.9,497.8 478.5,500.2 475.6,501.1 473.3,500.2 472.8,497.8 474.7,496.4 475.2,493.5 476.1,492.1ZM456.6,512.5 460.4,510.6 462.3,511.6 459,513ZM457.6,514.9 461.4,513.5 463.3,514 459.5,515.7Z"/>
<path id="flevoland_isl" fill="#54859f" stroke="#54859f" stroke-width="0.5" d="M476.3,497.6 479.1,496.7 479.6,498.3 477.5,499.7 475.9,499.3Z"/>
</g></svg>
<div class="t" id="ltitle">Ecart en %</div>
<div class="sw" style="top:242px;background:#ec705d"></div><div class="t ll" id="l1" style="top:242px;transform:scaleX(0.934)">&lt;=3</div>
<div class="sw" style="top:278px;background:#54859f"></div><div class="t ll" id="l2" style="top:278px;transform:scaleX(0.934)">&gt;=5</div>
<div class="sw" style="top:314px;background:#f3ae97"></div><div class="t ll" id="l3" style="top:314px;transform:scaleX(0.949)">3 &lt; conso &lt; 5</div>
<div class="sw" style="top:350px;background:#b52e29"></div><div class="t ll" id="l4" style="top:350px;transform:scaleX(1.007)">Objectif atteint</div>
<div class="zb" style="top:188px"><span id="zp">+</span></div>
<div class="zb" style="top:236px"><span id="zm">−</span></div>
<div class="t" id="foot">Map: Aurore Coulon • Source: <a>Eurostat</a> • <a>Get the data</a> • <a>Created with Datawrapper</a></div>
</body>
</html>
